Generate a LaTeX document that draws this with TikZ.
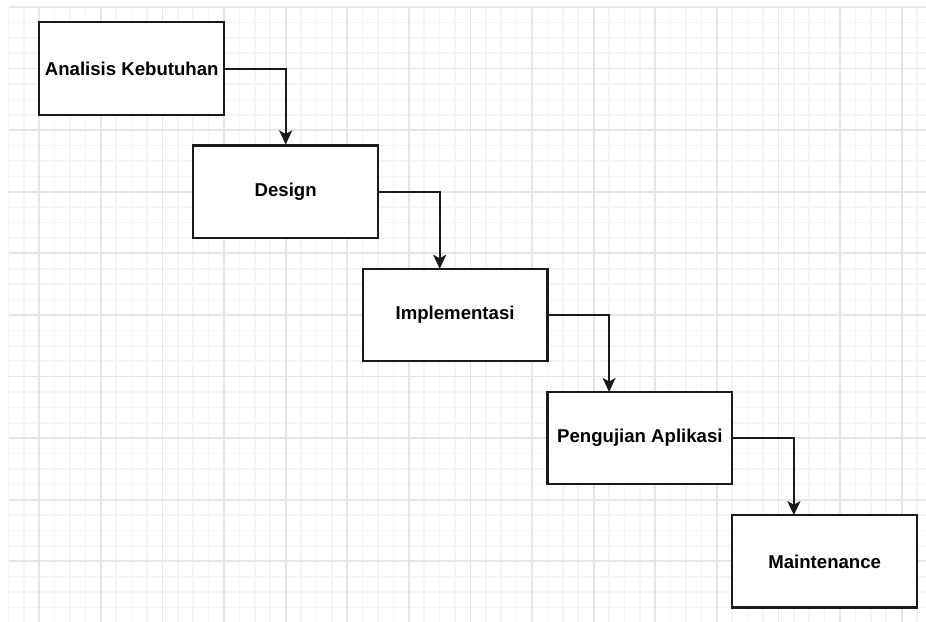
\documentclass[tikz,border=0pt]{standalone}
\usepackage{fontspec}
\setmainfont{Liberation Sans}
\usetikzlibrary{arrows.meta}
\definecolor{minorgrid}{HTML}{F5F5F5}
\definecolor{majorgrid}{HTML}{E6E6E6}
\definecolor{boxline}{HTML}{1A1A1A}
\tikzset{
  stepbox/.style={draw=boxline, line width=2.2pt, fill=white, rectangle,
    minimum width=184.8pt, minimum height=92.4pt, inner sep=0pt,
    font=\fontsize{18.6}{22}\selectfont\bfseries, text=black},
  flow/.style={draw=boxline, line width=2pt,
    -{Stealth[length=14pt,width=13pt,inset=3.5pt]}},
  minorline/.style={draw=minorgrid, line width=1.6pt},
  majorline/.style={draw=majorgrid, line width=1.8pt}
}
\begin{document}
\begin{tikzpicture}[x=15.4pt,y=-15.4pt]
\useasboundingbox (-2.552,-0.4545) rectangle (57.58,39.935);
\fill[white] (-2.552,-0.4545) rectangle (57.58,39.935);
% minor grid
\foreach \i in {-2,...,57} {
  \pgfmathtruncatemacro{\r}{mod(\i+400,4)}
  \ifnum\r=0\relax\else\draw[minorline] (\i,0) -- (\i,39.935);\fi}
\foreach \j in {0,...,39} {
  \pgfmathtruncatemacro{\r}{mod(\j,4)}
  \ifnum\r=0\relax\else\draw[minorline] (-2,\j) -- (57.58,\j);\fi}
% major grid
\foreach \i in {0,4,...,56} {\draw[majorline] (\i,0) -- (\i,39.935);}
\foreach \j in {0,4,...,36} {\draw[majorline] (-2,\j) -- (57.58,\j);}
% boxes
\node[stepbox] (b1) at (6,4) {Analisis Kebutuhan};
\node[stepbox] (b2) at (16,12) {Design};
\node[stepbox] (b3) at (27,20) {Implementasi};
\node[stepbox] (b4) at (39,28) {Pengujian Aplikasi};
\node[stepbox] (b5) at (51,36) {Maintenance};
% arrow targets
\coordinate (t3) at (26,17);
\coordinate (t4) at (37,25);
\coordinate (t5) at (49,33);
% connectors
\draw[flow] (b1.east) -| (b2.north);
\draw[flow] (b2.east) -| (t3);
\draw[flow] (b3.east) -| (t4);
\draw[flow] (b4.east) -| (t5);
\end{tikzpicture}
\end{document}
